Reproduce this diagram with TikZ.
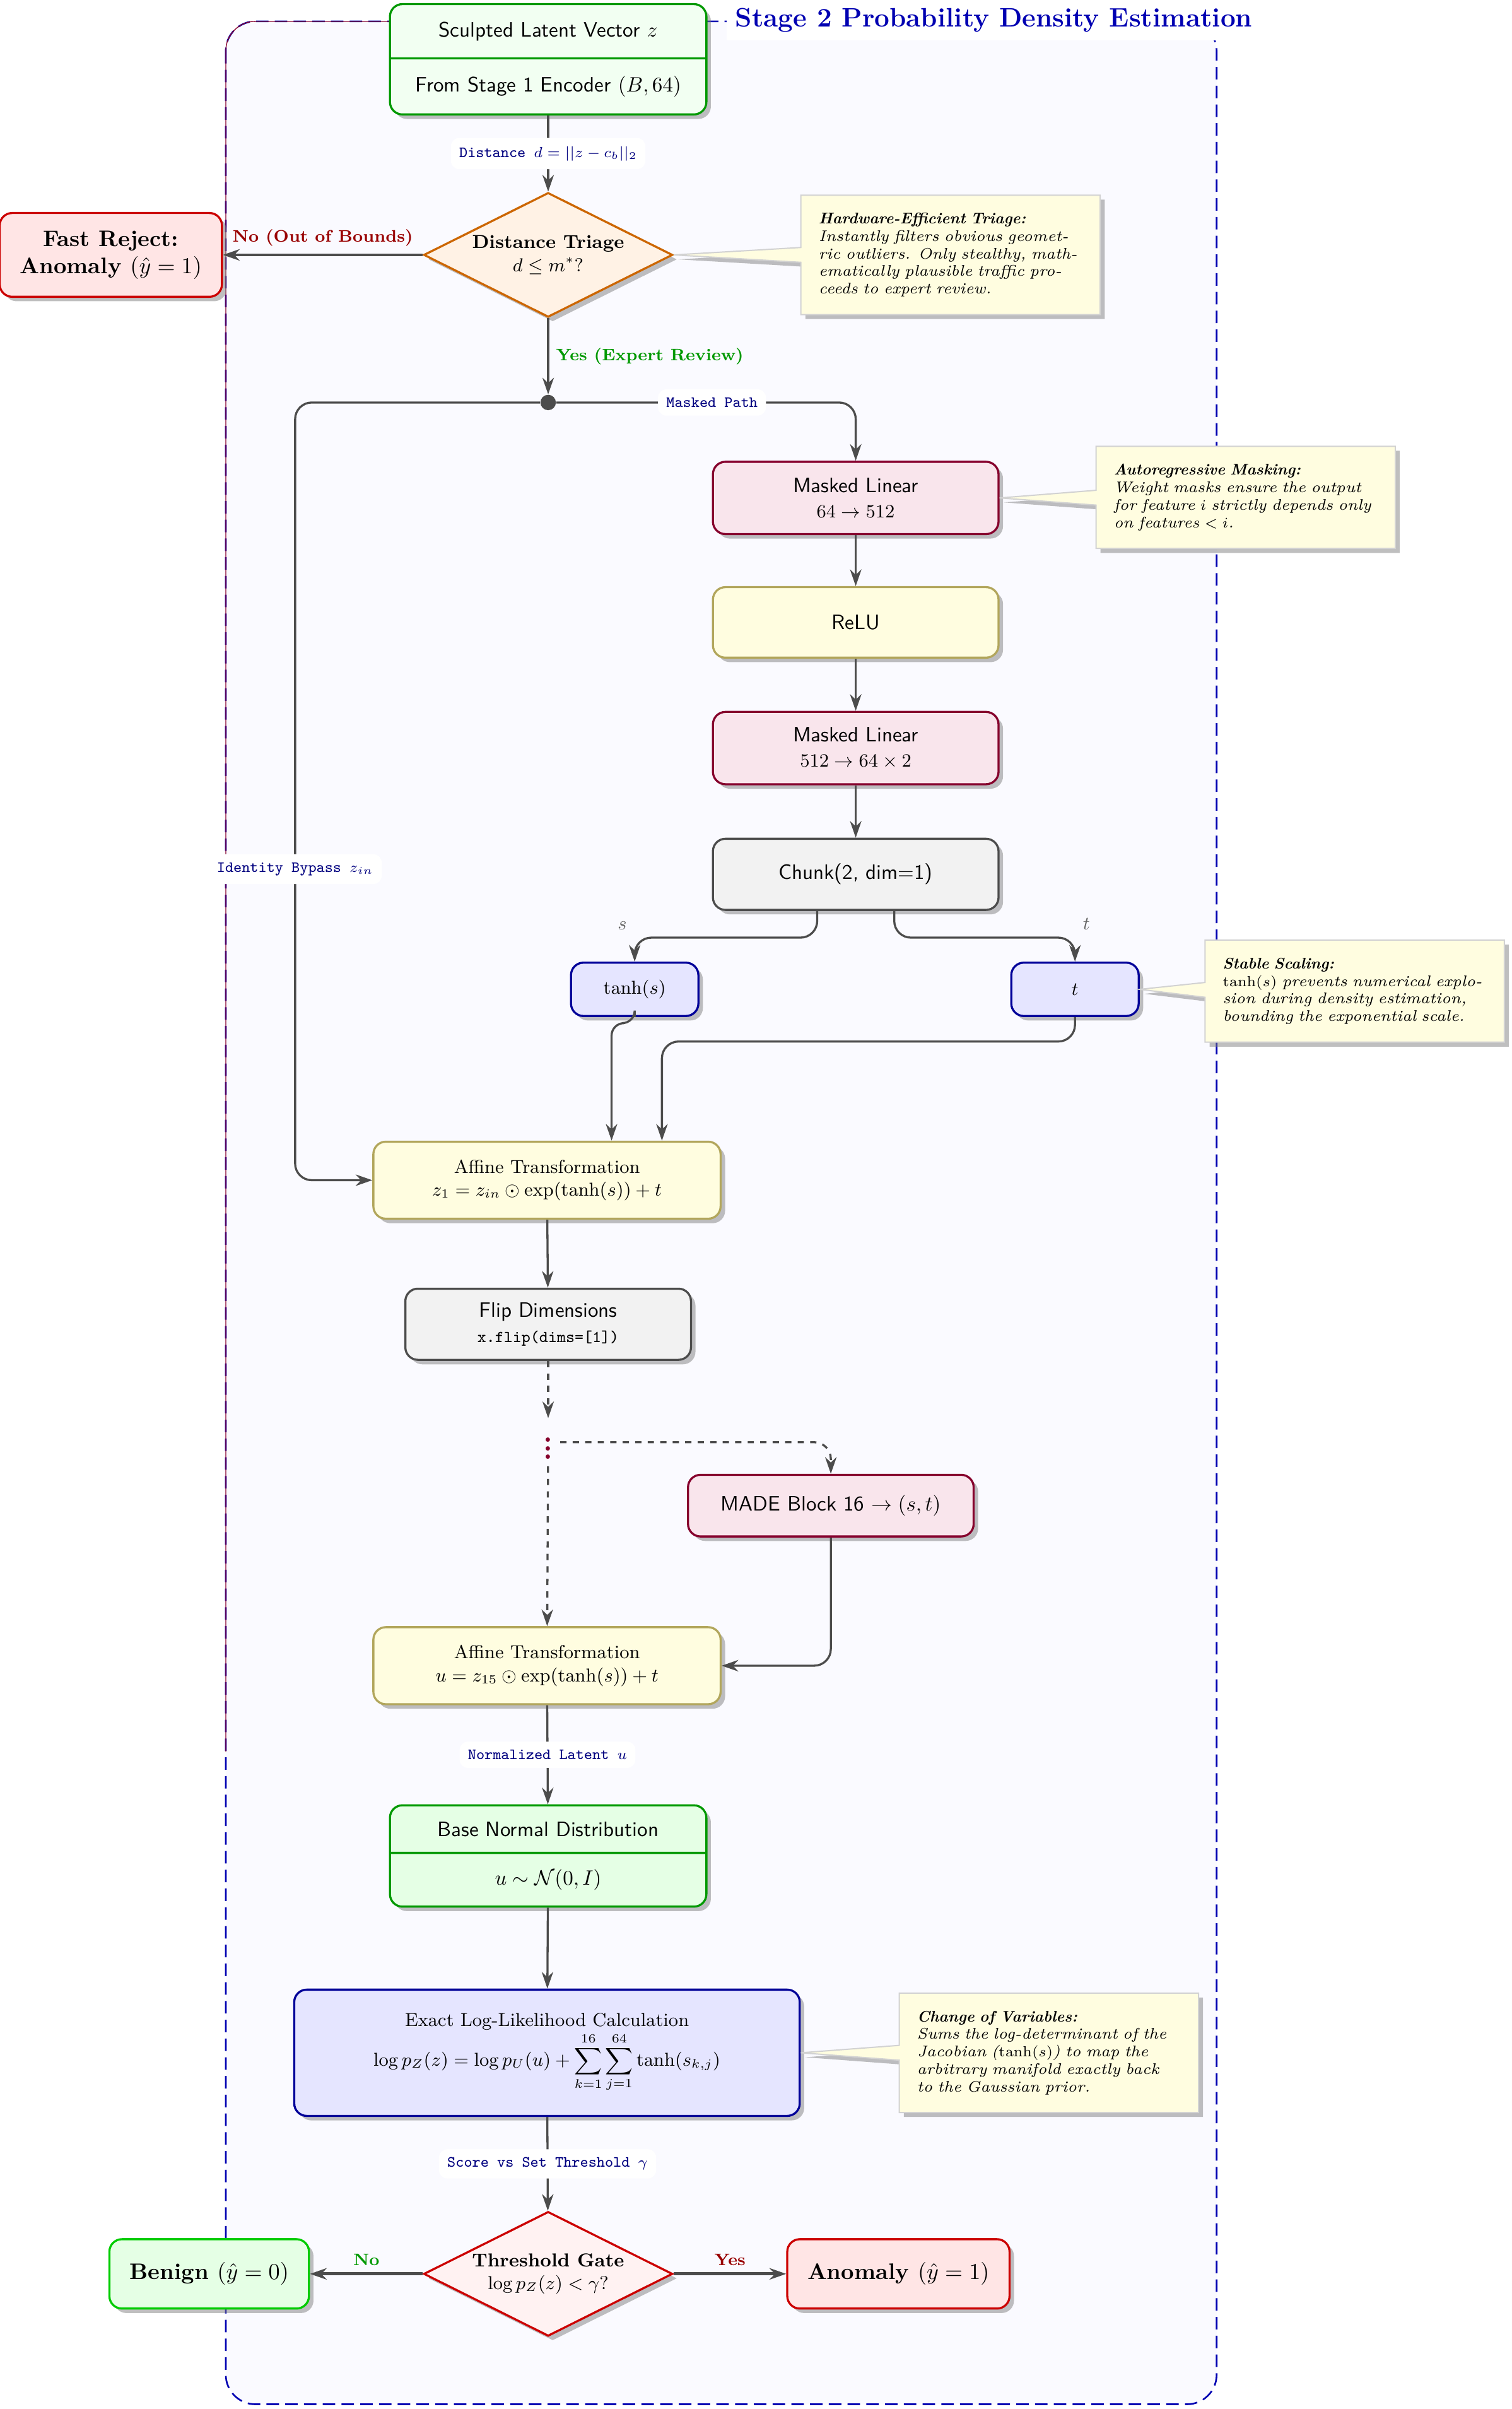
\documentclass[tikz,border=0pt]{standalone}
\usepackage{amsmath, amssymb}
\usepackage{tikz}
\usetikzlibrary{arrows.meta, positioning, shapes.geometric, shapes.multipart, shapes.callouts, shadows}

\definecolor{khaki}{RGB}{178,166,92}

\begin{document}
\begin{tikzpicture}[
    base_box/.style={rectangle, rounded corners=6pt, draw, line width=1pt, align=center, drop shadow, font=\sffamily},
    masked_box/.style={base_box, fill=purple!10, draw=purple!70!black, minimum width=4.82cm, minimum height=1.22cm},
    act_box/.style={base_box, fill=yellow!12, draw=khaki, minimum width=4.82cm, minimum height=1.19cm},
    util_box/.style={base_box, fill=gray!10, draw=black!70, minimum width=4.82cm, minimum height=1.2cm},
    param_box/.style={base_box, fill=blue!10, draw=blue!60!black, minimum width=2.15cm, minimum height=0.9cm, font=\small},
    affine_box/.style={base_box, fill=yellow!12, draw=khaki, font=\small, minimum width=5.86cm, minimum height=1.3cm},
    io_box/.style={base_box, rectangle split, rectangle split parts=2, fill=green!5, draw=green!60!black, minimum width=5.34cm, inner ysep=0.28cm},
    decision/.style={diamond, aspect=2, draw, line width=1pt, align=center, drop shadow, minimum width=4.2cm, minimum height=2.1cm, inner sep=1pt, font=\small},
    result_box/.style={base_box, font=\fontsize{10.8}{13}\selectfont\bfseries, inner xsep=0.34cm, inner ysep=0.3cm, minimum height=1.17cm},
    bad_box/.style={result_box, fill=red!10, draw=red!80!black},
    good_box/.style={result_box, fill=green!10, draw=green!80!black},
    note_box/.style={rectangle callout, fill=yellow!12, draw=gray!35, line width=0.6pt, text width=4.45cm, inner sep=0.3cm, font=\fontsize{7.4}{8.4}\selectfont\itshape, drop shadow},
    stage_frame/.style={draw=blue!70!black, fill=blue!2, line width=0.8pt, dash pattern=on 6pt off 3pt, rounded corners=0.5cm},
    stage_title/.style={font=\fontsize{12.8}{15}\selectfont\bfseries, text=blue!70!black, fill=white, inner sep=4pt},
    edge/.style={-{Stealth[length=8pt, width=5.5pt]}, line width=1pt, draw=black!70},
    decision_edge/.style={edge, line width=1.5pt},
    path_lbl/.style={font=\ttfamily\fontsize{7.5}{9}\selectfont, text=blue!50!black, fill=white, rounded corners=4pt, inner sep=4pt},
    yes_lbl/.style={font=\footnotesize\bfseries, text=green!60!black},
    no_lbl/.style={font=\footnotesize\bfseries, text=red!60!black},
    split_lbl/.style={font=\small, text=black!60}
]

% Marco de la etapa
\useasboundingbox (0,0) rectangle (25.51,-40.64);
\draw[stage_frame] (3.81,-0.36) rectangle (20.53,-40.56);
\draw[purple!70!black, line width=0.4pt, rounded corners=0.5cm] (3.81,-29.55) -- (3.81,-0.36) -- (7,-0.36);
\node[stage_title] (ttl) at (16.77,-0.34) {Stage 2 Probability Density Estimation};

% Entrada y triaje
\node[io_box] (latent) at (9.25,-1.00) {Sculpted Latent Vector $z$ \nodepart{two} From Stage 1 Encoder $(B, 64)$};
\node[decision, fill=orange!10, draw=orange!80!black] (tri) at (9.25,-4.30) {\textbf{Distance Triage}\\ $d \leq m^*$?};
\node[bad_box] (rej) at (1.87,-4.30) {Fast Reject:\\ Anomaly $(\hat{y}=1)$};
\node[circle, fill=black!70, inner sep=0pt, minimum size=0.26cm] (split) at (9.25,-6.79) {};

% Bloque MADE
\node[masked_box] (ml1) at (14.44,-8.40) {Masked Linear\\ {\small $64 \rightarrow 512$}};
\node[act_box] (relu) at (14.44,-10.50) {ReLU};
\node[masked_box] (ml2) at (14.44,-12.62) {Masked Linear\\ {\small $512 \rightarrow 64 \times 2$}};
\node[util_box] (chunk) at (14.44,-14.75) {Chunk(2, dim=1)};
\node[param_box] (tanh) at (10.71,-16.69) {$\tanh(s)$};
\node[param_box] (tnode) at (18.14,-16.69) {$t$};
\node[affine_box] (aff1) at (9.23,-19.91) {Affine Transformation\\ $z_1 = z_{in} \odot \exp(\tanh(s)) + t$};
\node[util_box] (flip) at (9.25,-22.34) {Flip Dimensions\\ {\ttfamily\footnotesize x.flip(dims=[1])}};
\node[text=purple!70!black, font=\Large\bfseries] (dots) at (9.25,-24.33) {$\vdots$};
\node[masked_box, minimum height=1.04cm] (made) at (14.02,-25.40) {MADE Block 16 $\rightarrow (s, t)$};
\node[affine_box] (aff2) at (9.23,-28.10) {Affine Transformation\\ $u = z_{15} \odot \exp(\tanh(s)) + t$};

% Salida
\node[io_box, fill=green!10, inner ysep=0.26cm] (base) at (9.25,-31.31) {Base Normal Distribution \nodepart{two} $u \sim \mathcal{N}(0, I)$};
\node[base_box, font=\small, fill=blue!10, draw=blue!60!black, minimum width=8.53cm, minimum height=2.13cm] (llh) at (9.23,-34.63) {Exact Log-Likelihood Calculation\\ $\displaystyle \log p_Z(z) = \log p_U(u) + \sum_{k=1}^{16} \sum_{j=1}^{64} \tanh(s_{k,j})$};
\node[decision, fill=red!5, draw=red!80!black] (gate) at (9.25,-38.36) {\textbf{Threshold Gate}\\ $\log p_Z(z) < \gamma$?};
\node[good_box] (ben) at (3.53,-38.36) {Benign $(\hat{y}=0)$};
\node[bad_box] (anom) at (15.16,-38.36) {Anomaly $(\hat{y}=1)$};

% Notas
\node[note_box, callout absolute pointer={(tri.east)}] (n1) at (16.04,-4.30) {\textbf{Hardware-Efficient Triage:}\\ Instantly filters obvious geometric outliers. Only stealthy, mathematically plausible traffic proceeds to expert review.};
\node[note_box, callout absolute pointer={(ml1.east)}] (n2) at (21.02,-8.39) {\textbf{Autoregressive Masking:}\\ Weight masks ensure the output for feature $i$ strictly depends only on features $< i$.};
\node[note_box, callout absolute pointer={(tnode.east)}] (n3) at (22.86,-16.72) {\textbf{Stable Scaling:}\\ $\tanh(s)$ prevents numerical explosion during density estimation, bounding the exponential scale.};
\node[note_box, callout absolute pointer={(llh.east)}] (n4) at (17.70,-34.63) {\textbf{Change of Variables:}\\ Sums the log-determinant of the Jacobian ($\tanh(s)$) to map the \mbox{arbitrary} manifold exactly back to the Gaussian prior.};

% Conexiones
\draw[edge] (latent) -- node[path_lbl] {Distance $d=||z-c_b||_2$} (tri);
\draw[decision_edge] (tri) -- node[above, no_lbl] {No (Out of Bounds)} (rej);
\draw[edge] (tri) -- node[right, yes_lbl] {Yes (Expert Review)} (split);
\draw[edge, rounded corners=8pt] (split) -| node[pos=0.26, path_lbl] {Masked Path} (ml1);
\coordinate (bypass) at (4.98,-6.79);
\draw[edge, rounded corners=8pt] (split) -- (bypass) |- node[pos=0.3, path_lbl] {Identity Bypass $z_{in}$} (aff1);

\draw[edge] (ml1) -- (relu);
\draw[edge] (relu) -- (ml2);
\draw[edge] (ml2) -- (chunk);
\draw[edge, rounded corners=8pt] ([xshift=-0.65cm]chunk.south) -- ++(0,-0.45) -| node[pos=0.5, above left, split_lbl] {$s$} (tanh);
\draw[edge, rounded corners=8pt] ([xshift=0.65cm]chunk.south) -- ++(0,-0.45) -| node[pos=0.5, above right, split_lbl] {$t$} (tnode);
\draw[edge, rounded corners=6pt] (tanh) -- ++(0,-0.57) -| ([xshift=1.09cm]aff1.north);
\draw[edge, rounded corners=8pt] (tnode) -- ++(0,-0.88) -| ([xshift=1.94cm]aff1.north);

\draw[edge] (aff1) -- (flip);
\draw[edge, dashed] (flip) -- (dots);
\draw[edge, dashed, rounded corners=8pt] (dots) -| (made);
\draw[edge, dashed] (dots) -- (aff2);
\draw[edge, rounded corners=8pt] (made) |- (aff2);

\draw[edge] (aff2) -- node[path_lbl] {Normalized Latent $u$} (base);
\draw[edge] (base) -- (llh);
\draw[edge] (llh) -- node[path_lbl] {Score vs Set Threshold $\gamma$} (gate);
\draw[decision_edge] (gate) -- node[above, yes_lbl] {No} (ben);
\draw[decision_edge] (gate) -- node[above, no_lbl] {Yes} (anom);

\end{tikzpicture}
\end{document}
